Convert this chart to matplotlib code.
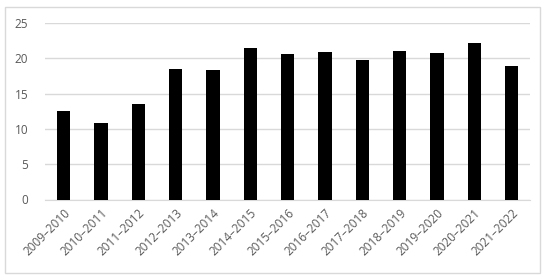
import numpy as np
import matplotlib.pyplot as plt
from matplotlib.patches import Rectangle

years = ['2009–2010', '2010–2011', '2011–2012', '2012–2013', '2013–2014',
         '2014–2015', '2015–2016', '2016–2017', '2017–2018', '2018–2019',
         '2019–2020', '2020–2021', '2021–2022']
values = [12.6, 10.8, 13.6, 18.5, 18.4, 21.5, 20.6, 20.9, 19.7, 21.0, 20.8, 22.2, 18.9]

plt.rcParams['font.family'] = ['Open Sans', 'DejaVu Sans']

fig = plt.figure(figsize=(5.5, 2.8), dpi=100)
ax = fig.add_axes([0.082, 0.2875, 0.882, 0.63])

x = np.arange(len(years))
ax.bar(x, values, width=0.36, color='black', zorder=3)

ax.set_ylim(0, 25)
ax.set_xlim(-0.5, len(years) - 0.5)
ax.set_yticks(range(0, 26, 5))
ax.set_xticks(x)
ax.set_xticklabels(years, rotation=45, ha='right', rotation_mode='anchor')
ax.tick_params(length=0, colors='#595959', labelsize=8.5)
ax.tick_params(axis='x', pad=5)
ax.tick_params(axis='y', pad=12)
ax.grid(axis='y', color='#d9d9d9', linewidth=1, zorder=0)
for s in ['top', 'right', 'left']:
    ax.spines[s].set_visible(False)
ax.spines['bottom'].set_color('#d9d9d9')

# outer chart border
fig.patches.append(Rectangle((5 / 550, 7 / 280), 535 / 550, 266 / 280,
                             transform=fig.transFigure, fill=False,
                             edgecolor='#d9d9d9', linewidth=1))

fig.savefig('out.png', dpi=100)
